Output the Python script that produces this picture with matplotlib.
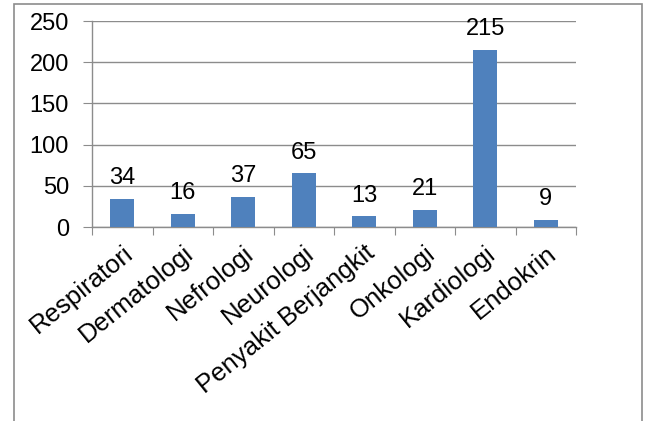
import matplotlib
matplotlib.use("Agg")
import matplotlib.pyplot as plt
from matplotlib.patches import Rectangle
from matplotlib.transforms import ScaledTranslation
import numpy as np

categories = ["Respiratori", "Dermatologi", "Nefrologi", "Neurologi",
              "Penyakit Berjangkit", "Onkologi", "Kardiologi", "Endokrin"]
values = [34, 16, 37, 65, 13, 21, 215, 9]
yticks = [0, 50, 100, 150, 200, 250]

plt.rcParams['font.family'] = ['Liberation Sans', 'DejaVu Sans']
FS = 17

W, H = 645, 421
fig = plt.figure(figsize=(W / 100, H / 100), dpi=100)
ax = fig.add_axes([92 / W, 1 - 227 / H, (576 - 92) / W, (227 - 21) / H])

x = np.arange(len(categories))
ax.bar(x, values, width=0.4, color="#4F81BD", zorder=3)

ax.set_xlim(-0.5, len(categories) - 0.5)
ax.set_ylim(0, 250)
ax.set_yticks(yticks)
ax.set_yticklabels([str(v) for v in yticks], fontsize=FS)
ax.yaxis.grid(True, color="#8c8c8c", linewidth=1.0, zorder=0)

ax.set_xticks(np.arange(-0.5, len(categories), 1.0))
ax.set_xticklabels([])
ax.set_xticks(x, minor=True)
labels = ax.set_xticklabels(categories, minor=True, rotation=39, ha='right',
                            va='top', rotation_mode='anchor', fontsize=18.5)
shift = ScaledTranslation(5 / 100, 0, fig.dpi_scale_trans)
for lab in labels:
    lab.set_transform(lab.get_transform() + shift)
ax.tick_params(axis='x', which='minor', length=0, pad=10)
ax.tick_params(axis='x', which='major', length=6, color="#8c8c8c", direction='out')
ax.tick_params(axis='y', length=6.5, color="#8c8c8c", direction='out', pad=10)

for s in ['top', 'right']:
    ax.spines[s].set_visible(False)
for s in ['left', 'bottom']:
    ax.spines[s].set_color("#8c8c8c")
    ax.spines[s].set_linewidth(1.0)

for xi, v in zip(x, values):
    ax.annotate(str(v), (xi, v), xytext=(0, 10.5), textcoords='offset points',
                ha='center', va='baseline', fontsize=FS)

fig.patches.append(Rectangle((14 / W, -0.05), (642 - 14) / W, 1.05 - 4 / H,
                             transform=fig.transFigure, fill=False,
                             edgecolor="#8c8c8c", linewidth=1.2))

fig.savefig("out.png", dpi=100)
